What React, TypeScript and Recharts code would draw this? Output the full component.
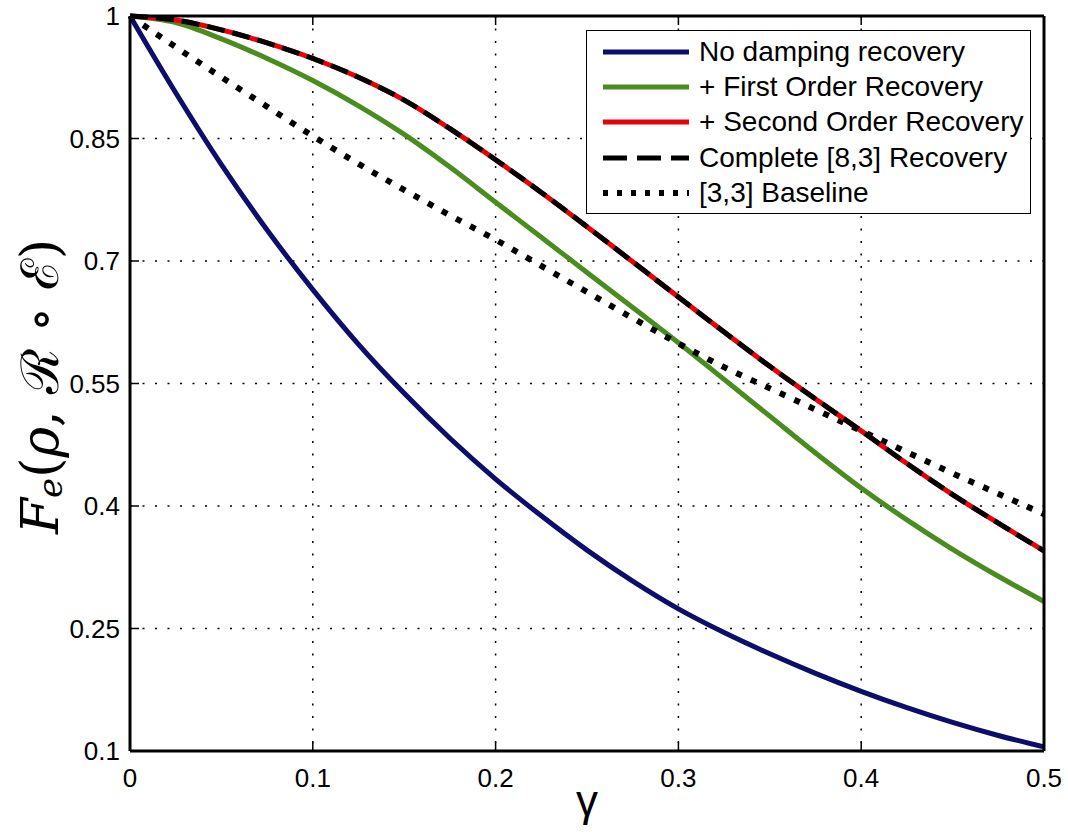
import { CartesianGrid, Legend, Line, LineChart, XAxis, YAxis } from "recharts";

const gamma = [0, 0.025, 0.05, 0.075, 0.1, 0.125, 0.15, 0.175, 0.2, 0.225, 0.25, 0.275, 0.3, 0.325, 0.35, 0.375, 0.4, 0.425, 0.45, 0.475, 0.5];
const noDamping = [1, 0.906, 0.818, 0.738, 0.665, 0.598, 0.538, 0.483, 0.433, 0.388, 0.346, 0.308, 0.274, 0.245, 0.219, 0.195, 0.173, 0.153, 0.135, 0.119, 0.105];
const firstOrder = [1, 0.992, 0.972, 0.948, 0.921, 0.89, 0.855, 0.815, 0.772, 0.729, 0.686, 0.643, 0.6, 0.555, 0.51, 0.465, 0.422, 0.383, 0.347, 0.314, 0.283];
const secondOrder = [1, 0.995, 0.983, 0.967, 0.948, 0.925, 0.897, 0.862, 0.824, 0.784, 0.742, 0.699, 0.656, 0.613, 0.571, 0.531, 0.492, 0.452, 0.414, 0.379, 0.345];
const complete83 = [1, 0.995, 0.983, 0.967, 0.948, 0.925, 0.897, 0.862, 0.824, 0.784, 0.742, 0.699, 0.656, 0.613, 0.571, 0.531, 0.492, 0.452, 0.414, 0.379, 0.345];
const baseline33 = [1, 0.962, 0.925, 0.889, 0.853, 0.819, 0.787, 0.756, 0.726, 0.694, 0.662, 0.63, 0.599, 0.57, 0.544, 0.518, 0.492, 0.466, 0.44, 0.415, 0.39];

const xTicks = [0, 0.1, 0.2, 0.3, 0.4, 0.5];
const yTicks = [0.1, 0.25, 0.4, 0.55, 0.7, 0.85, 1];
const names = ["No damping recovery", "+ First Order Recovery", "+ Second Order Recovery", "Complete [8,3] Recovery", "[3,3] Baseline"];

const data = gamma.map((g, i) => ({
  g,
  none: noDamping[i],
  first: firstOrder[i],
  second: secondOrder[i],
  complete: complete83[i],
  base: baseline33[i],
}));

const sans = "'Liberation Sans', Arial, Helvetica, sans-serif";
const DOT = "6 10";
const DASH = "18 8";

const BottomTick = ({ x, y, payload }: any) => (
  <g>
    <line x1={x} y1={y} x2={x} y2={y - 9} stroke="#000" strokeWidth={1.5} />
    <text x={x} y={y + 36} textAnchor="middle" fontSize={26} fontFamily={sans} fill="#000">
      {String(payload.value)}
    </text>
  </g>
);
const TopTick = ({ x, y }: any) => <line x1={x} y1={y} x2={x} y2={y + 9} stroke="#000" strokeWidth={1.5} />;
const LeftTick = ({ x, y, payload }: any) => (
  <g>
    <line x1={x} y1={y} x2={x + 9} y2={y} stroke="#000" strokeWidth={1.5} />
    <text x={x - 10} y={y + 9} textAnchor="end" fontSize={26} fontFamily={sans} fill="#000">
      {String(payload.value)}
    </text>
  </g>
);
const RightTick = ({ x, y }: any) => <line x1={x} y1={y} x2={x - 9} y2={y} stroke="#000" strokeWidth={1.5} />;

const GammaLabel = ({ viewBox }: any) => (
  <text x={viewBox.x + viewBox.width / 2} y={viewBox.y + 65} textAnchor="middle" fontSize={44} fontFamily={sans} fill="#000">
    γ
  </text>
);

const FidelityLabel = ({ viewBox }: any) => {
  const cx = viewBox.x + 40;
  const cy = viewBox.y + viewBox.height / 2 + 3;
  return (
    <text
      x={cx}
      y={cy}
      transform={`rotate(-90 ${cx} ${cy})`}
      textAnchor="middle"
      dominantBaseline="central"
      fontSize={52}
      fontFamily="'DejaVu Serif', 'Liberation Serif', serif"
      fill="#000"
    >
      <tspan fontStyle="italic">F</tspan>
      <tspan fontStyle="italic" fontSize={34} dy={10}>e</tspan>
      <tspan dy={-10}>(</tspan>
      <tspan fontStyle="italic">ρ</tspan>
      <tspan>, ℛ ∘ ℰ)</tspan>
    </text>
  );
};

const LegendBox = ({ payload }: any) => {
  const items = [...(payload || [])].sort((a: any, b: any) => names.indexOf(a.value) - names.indexOf(b.value));
  return (
    <div style={{ border: "1.5px solid #000", background: "#fff", padding: "3px 6px 3px 16px", boxSizing: "border-box", width: 445 }}>
      {items.map((item: any) => (
        <div key={item.value} style={{ display: "flex", alignItems: "center", height: 35.3 }}>
          <svg width={86} height={10} style={{ marginRight: 10, flex: "none" }}>
            <line
              x1={0}
              y1={5}
              x2={86}
              y2={5}
              stroke={item.color}
              strokeWidth={item.payload?.strokeWidth ?? 5}
              strokeDasharray={item.value === names[3] ? "24 10" : item.value === names[4] ? "5 9" : undefined}
            />
          </svg>
          <span style={{ fontFamily: sans, fontSize: 28, color: "#000", whiteSpace: "nowrap" }}>{item.value}</span>
        </div>
      ))}
    </div>
  );
};

export default function App() {
  return (
    <div style={{ position: "absolute", left: 0, top: 0, width: 1068, height: 832, background: "#fff" }}>
      <LineChart width={1068} height={832} data={data} margin={{ top: 15, right: 23, bottom: 0, left: 0 }}>
        <CartesianGrid stroke="#000" strokeWidth={1.5} strokeDasharray="2 10.5" />
        <XAxis
          dataKey="g"
          type="number"
          domain={[0, 0.5]}
          ticks={xTicks}
          interval={0}
          height={81}
          tickSize={0}
          tickMargin={0}
          tick={BottomTick}
          axisLine={{ stroke: "#000", strokeWidth: 3 }}
          label={{ content: GammaLabel }}
        />
        <XAxis
          xAxisId="top"
          orientation="top"
          dataKey="g"
          type="number"
          domain={[0, 0.5]}
          ticks={xTicks}
          interval={0}
          height={1}
          tickSize={0}
          tickMargin={0}
          tick={TopTick}
          axisLine={{ stroke: "#000", strokeWidth: 3 }}
        />
        <YAxis
          type="number"
          domain={[0.1, 1]}
          ticks={yTicks}
          interval={0}
          width={130}
          tickSize={0}
          tickMargin={0}
          tick={LeftTick}
          axisLine={{ stroke: "#000", strokeWidth: 3 }}
          label={{ content: FidelityLabel }}
        />
        <YAxis
          yAxisId="right"
          orientation="right"
          type="number"
          domain={[0.1, 1]}
          ticks={yTicks}
          interval={0}
          width={1}
          tickSize={0}
          tickMargin={0}
          tick={RightTick}
          axisLine={{ stroke: "#000", strokeWidth: 3 }}
        />
        <Legend
          layout="horizontal"
          verticalAlign="middle"
          align="center"
          content={LegendBox}
          wrapperStyle={{ position: "absolute", left: 586, top: 30, width: 445, height: "auto" }}
        />
        <Line type="monotone" dataKey="none" name={names[0]} stroke="#0d0d6b" strokeWidth={5} dot={false} isAnimationActive={false} />
        <Line type="monotone" dataKey="first" name={names[1]} stroke="#4a8c1e" strokeWidth={5} dot={false} isAnimationActive={false} />
        <Line type="monotone" dataKey="base" name={names[4]} stroke="#000" strokeWidth={6} strokeDasharray={DOT} dot={false} isAnimationActive={false} />
        <Line type="monotone" dataKey="second" name={names[2]} stroke="#e8000a" strokeWidth={5} dot={false} isAnimationActive={false} />
        <Line type="monotone" dataKey="complete" name={names[3]} stroke="#000" strokeWidth={5} strokeDasharray={DASH} dot={false} isAnimationActive={false} />
      </LineChart>
    </div>
  );
}
